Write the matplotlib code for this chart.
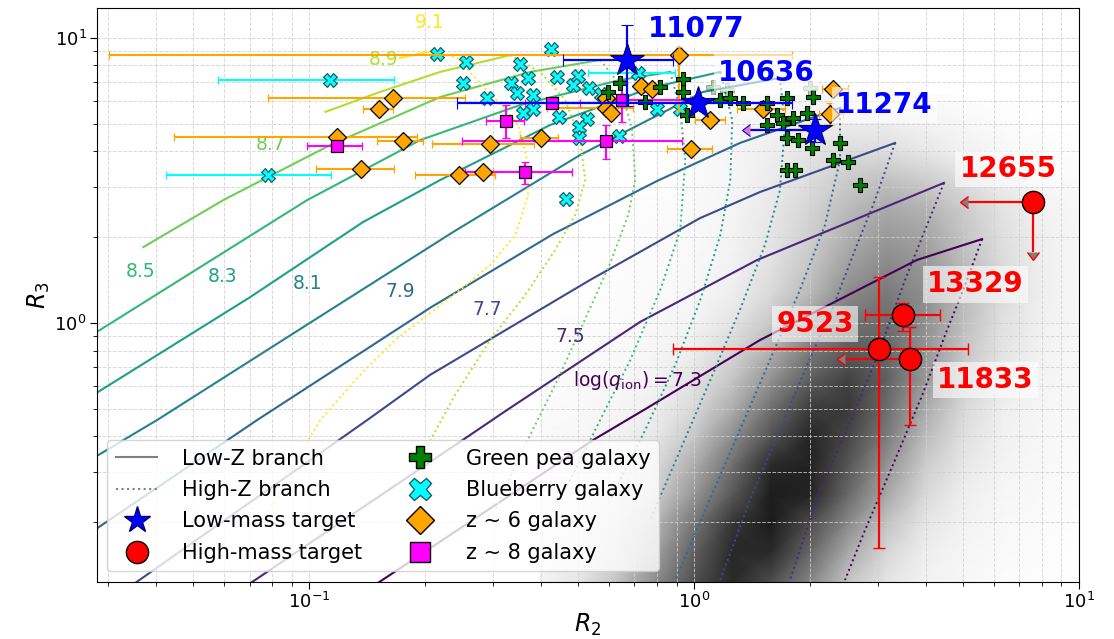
import numpy as np
import matplotlib.pyplot as plt
from matplotlib.lines import Line2D
from matplotlib.colors import PowerNorm

# photoionisation tracks, log10 R2 / log10 R3, one list per log(q_ion) level
q_levels = [7.3, 7.5, 7.7, 7.9, 8.1, 8.3, 8.5, 8.7, 8.9, 9.1]

lowz_logr2 = [
    [-0.868, -0.262, -0.122, 0.171, 0.579, 0.748],
    [-1.179, -0.590, -0.486, -0.140, 0.164, 0.649],
    [-1.478, -0.849, -0.686, -0.270, 0.016, 0.171, 0.522],
    [-1.569, -1.135, -0.686, -0.366, -0.096, 0.119, 0.379],
    [-1.569, -1.395, -0.945, -0.626, -0.296, 0.023, 0.223],
    [-1.569, -1.153, -0.860, -0.660, -0.374, -0.114, 0.068],
    [-1.569, -1.283, -1.005, -0.712, -0.452, -0.192, -0.062],
    [-1.431, -1.223, -0.945, -0.660, -0.426, -0.244],
    [-0.958, -0.816, -0.660, -0.478],
    [-0.764, -0.681],
]
lowz_logr3 = [
    [-0.953, -0.410, -0.298, -0.060, 0.221, 0.294],
    [-0.936, -0.400, -0.305, 0.004, 0.221, 0.491],
    [-0.936, -0.340, -0.182, 0.151, 0.368, 0.459, 0.631],
    [-0.736, -0.340, 0.053, 0.312, 0.498, 0.631, 0.754],
    [-0.480, -0.340, 0.046, 0.319, 0.589, 0.810, 0.859],
    [-0.259, 0.091, 0.354, 0.501, 0.694, 0.824, 0.880],
    [-0.046, 0.196, 0.431, 0.641, 0.764, 0.852, 0.880],
    [0.266, 0.431, 0.624, 0.792, 0.880, 0.922],
    [0.740, 0.810, 0.880, 0.939],
    [0.929, 0.953],
]
highz_logr2 = [
    [0.748, 0.704, 0.657, 0.595, 0.522, 0.444, 0.392],
    [0.649, 0.600, 0.548, 0.475, 0.405, 0.327, 0.249],
    [0.522, 0.470, 0.418, 0.361, 0.288, 0.223, 0.145, 0.068],
    [0.379, 0.379, 0.340, 0.275, 0.197, 0.119, 0.029, -0.049],
    [0.223, 0.236, 0.223, 0.184, 0.119, 0.042, -0.036, -0.114],
    [0.068, 0.099, 0.094, 0.068, 0.016, -0.049, -0.127, -0.218],
    [-0.062, -0.036, -0.023, -0.036, -0.088, -0.166, -0.244, -0.335],
    [-0.244, -0.192, -0.161, -0.153, -0.171, -0.218, -0.296, -0.361, -0.439, -0.517],
    [-0.478, -0.400, -0.335, -0.296, -0.283, -0.309, -0.361, -0.439, -0.530, -0.621, -0.699],
    [-0.681, -0.616, -0.556, -0.496, -0.457, -0.434, -0.431, -0.465, -0.530, -0.608,
     -0.686, -0.777, -0.868, -0.971, -1.049, -1.114],
]
highz_logr3 = [
    [0.294, 0.133, -0.025, -0.245, -0.480, -0.726, -0.901],
    [0.491, 0.326, 0.151, -0.119, -0.351, -0.585, -0.901],
    [0.631, 0.431, 0.256, 0.056, -0.165, -0.375, -0.620, -0.901],
    [0.754, 0.571, 0.343, 0.116, -0.130, -0.375, -0.655, -0.901],
    [0.859, 0.694, 0.466, 0.273, 0.046, -0.200, -0.445, -0.690],
    [0.880, 0.712, 0.501, 0.308, 0.081, -0.147, -0.375, -0.620],
    [0.880, 0.747, 0.571, 0.326, 0.116, -0.130, -0.340, -0.585],
    [0.922, 0.834, 0.676, 0.501, 0.379, 0.210, -0.025, -0.217, -0.428, -0.655],
    [0.939, 0.880, 0.782, 0.641, 0.501, 0.379, 0.256, 0.098, -0.060, -0.252, -0.445],
    [0.953, 0.929, 0.841, 0.757, 0.694, 0.571, 0.449, 0.308, 0.203, 0.116,
     0.035, -0.060, -0.182, -0.340, -0.515, -0.690],
]

# SDSS star-forming galaxies, smoothed density on a log10 R2 / log10 R3 grid
hist_logr2 = [-0.4, -0.3, -0.2, -0.1, 0.0, 0.1, 0.2, 0.3, 0.4, 0.5, 0.6, 0.7, 0.8, 0.9, 1.0]
hist_logr3 = [-1.0, -0.9, -0.8, -0.7, -0.6, -0.5, -0.4, -0.3, -0.2, -0.1,
              0.0, 0.1, 0.2, 0.3, 0.4, 0.5, 0.6, 0.7, 0.8]
hist_density = [
    [0.05, 0.14, 0.30, 0.53, 0.79, 0.83, 0.63, 0.37, 0.18, 0.075, 0.03, 0.015, 0.006, 0.0, 0.0],
    [0.04, 0.09, 0.23, 0.44, 0.72, 0.88, 0.74, 0.48, 0.24, 0.10, 0.045, 0.022, 0.01, 0.004, 0.0],
    [0.035, 0.07, 0.17, 0.36, 0.64, 0.88, 0.87, 0.62, 0.34, 0.16, 0.065, 0.03, 0.015, 0.006, 0.0],
    [0.025, 0.055, 0.13, 0.29, 0.54, 0.82, 0.94, 0.74, 0.46, 0.24, 0.095, 0.04, 0.02, 0.01, 0.004],
    [0.018, 0.035, 0.08, 0.19, 0.40, 0.68, 0.93, 0.90, 0.60, 0.34, 0.15, 0.06, 0.03, 0.014, 0.006],
    [0.014, 0.028, 0.06, 0.145, 0.32, 0.58, 0.87, 0.91, 0.69, 0.41, 0.20, 0.085, 0.035, 0.018, 0.008],
    [0.012, 0.025, 0.045, 0.09, 0.22, 0.44, 0.72, 0.89, 0.76, 0.51, 0.27, 0.12, 0.05, 0.025, 0.012],
    [0.008, 0.015, 0.03, 0.06, 0.15, 0.32, 0.57, 0.80, 0.81, 0.58, 0.33, 0.15, 0.06, 0.03, 0.015],
    [0.006, 0.012, 0.02, 0.04, 0.10, 0.23, 0.42, 0.66, 0.78, 0.64, 0.39, 0.20, 0.08, 0.035, 0.016],
    [0.0, 0.007, 0.014, 0.027, 0.064, 0.16, 0.31, 0.52, 0.67, 0.62, 0.41, 0.23, 0.10, 0.04, 0.02],
    [0.0, 0.005, 0.01, 0.018, 0.038, 0.10, 0.22, 0.39, 0.56, 0.585, 0.43, 0.26, 0.12, 0.05, 0.022],
    [0.0, 0.0, 0.006, 0.013, 0.026, 0.065, 0.15, 0.28, 0.45, 0.53, 0.43, 0.27, 0.14, 0.06, 0.025],
    [0.0, 0.0, 0.004, 0.01, 0.018, 0.046, 0.115, 0.225, 0.37, 0.455, 0.40, 0.27, 0.14, 0.06, 0.025],
    [0.0, 0.0, 0.0, 0.008, 0.016, 0.04, 0.095, 0.19, 0.31, 0.39, 0.355, 0.24, 0.125, 0.06, 0.022],
    [0.0, 0.0, 0.0, 0.007, 0.014, 0.034, 0.085, 0.165, 0.27, 0.335, 0.30, 0.20, 0.105, 0.045, 0.018],
    [0.0, 0.0, 0.0, 0.0, 0.012, 0.03, 0.07, 0.13, 0.21, 0.25, 0.205, 0.13, 0.065, 0.03, 0.011],
    [0.0, 0.0, 0.0, 0.0, 0.012, 0.03, 0.06, 0.10, 0.137, 0.13, 0.09, 0.05, 0.022, 0.008, 0.0],
    [0.0, 0.0, 0.0, 0.0, 0.0, 0.017, 0.034, 0.055, 0.07, 0.062, 0.04, 0.022, 0.01, 0.0, 0.0],
    [0.0, 0.0, 0.0, 0.0, 0.0, 0.0, 0.016, 0.025, 0.03, 0.025, 0.015, 0.0, 0.0, 0.0, 0.0],
]

# green peas
gp_r2 = [0.643, 0.598, 0.746, 0.816, 0.936, 0.936, 0.959, 1.168, 1.240, 1.340, 1.548, 1.745,
         2.037, 1.643, 1.807, 1.966, 1.548, 1.703, 1.745, 1.862, 2.025, 2.393, 2.296, 2.512,
         1.745, 1.829, 2.698]
gp_r3 = [6.94, 6.45, 5.95, 6.72, 7.16, 6.45, 5.36, 6.05, 6.15, 5.90, 5.90, 6.15,
         6.20, 5.36, 5.23, 5.45, 4.94, 5.02, 4.45, 4.38, 4.10, 4.28, 3.73, 3.67,
         3.44, 3.44, 3.05]
gp_faint_r2 = [1.12, 1.218, 2.0]
gp_faint_r3 = [6.72, 6.56, 6.66]

# blueberries
bb_r2 = [0.215, 0.256, 0.425, 0.353, 0.251, 0.371, 0.335, 0.347, 0.382, 0.441, 0.500, 0.485,
         0.534, 0.446, 0.290, 0.382, 0.360, 0.527, 0.502, 0.502, 0.638, 0.573, 0.801, 0.920,
         0.465]
bb_r3 = [8.77, 8.22, 9.13, 8.09, 6.94, 7.22, 6.94, 6.40, 6.30, 7.28, 7.34, 6.83,
         6.66, 5.27, 6.15, 5.62, 5.45, 5.19, 4.86, 4.45, 4.52, 6.35, 5.62, 5.62,
         2.72]
bb_err_r2 = [0.113, 0.078, 0.715]
bb_err_r3 = [7.11, 3.30, 7.52]
bb_err_r2_lo = [0.058, 0.0425, 0.531]
bb_err_r2_hi = [0.166, 0.114, 0.893]

# z ~ 6 galaxies
z6_r2 = [0.165, 0.152, 0.118, 0.175, 0.136, 0.914, 0.728, 0.778, 0.591, 0.591,
         0.609, 1.10, 1.51, 2.296, 2.256, 0.295, 0.401, 0.982, 0.245, 0.283]
z6_r3 = [6.15, 5.62, 4.49, 4.34, 3.47, 8.70, 6.78, 6.61, 6.15, 5.67,
         5.45, 5.15, 5.62, 6.61, 5.40, 4.24, 4.45, 4.07, 3.30, 3.38]
z6_r2_lo = [0.0782, 0.138, 0.0446, 0.150, 0.104, 0.0301, 0.728, 0.778, 0.591, 0.415,
            0.609, 1.006, 1.293, 2.15, 2.112, 0.209, 0.353, 0.851, 0.1885, 0.251]
z6_r2_hi = [0.254, 0.165, 0.191, 0.198, 0.166, 1.797, 0.728, 0.778, 0.591, 0.695,
            0.609, 1.204, 1.722, 2.512, 2.438, 0.384, 0.443, 1.114, 0.304, 0.301]
z6_r3_lo = [6.15, 5.62, 4.49, 4.34, 3.47, 5.58, 6.78, 6.61, 6.15, 5.67,
            5.45, 5.15, 5.62, 6.61, 4.94, 4.24, 4.45, 4.07, 3.30, 3.38]
z6_r3_hi = [6.15, 5.62, 4.49, 4.34, 3.47, 9.30, 6.78, 6.61, 6.15, 5.67,
            5.45, 5.15, 5.62, 6.61, 5.90, 4.24, 4.45, 4.07, 3.30, 3.38]

# z ~ 8 galaxies
z8_r2 = [0.118, 0.428, 0.650, 0.325, 0.591, 0.364]
z8_r3 = [4.17, 5.90, 6.05, 5.11, 4.34, 3.38]
z8_r2_lo = [0.0989, 0.364, 0.570, 0.288, 0.2496, 0.254]
z8_r2_hi = [0.1374, 0.506, 0.976, 0.362, 0.931, 0.482]
z8_r3_lo = [4.17, 5.90, 5.07, 4.45, 3.76, 3.07]
z8_r3_hi = [4.17, 5.90, 7.11, 5.81, 4.94, 3.67]

# our targets
lm_names = ['11077', '10636', '11274']
lm_r2 = [0.670, 1.024, 2.062]
lm_r3 = [8.36, 5.90, 4.75]
lm_r2_lo = [0.457, 0.242, 1.397]
lm_r2_hi = [0.881, 1.797, 2.062]
lm_r3_lo = [5.75, 5.60, 4.30]
lm_r3_hi = [11.09, 6.20, 5.20]
lm_r2_limit = [False, False, True]

hm_names = ['12655', '13329', '9523', '11833']
hm_r2 = [7.60, 3.49, 3.023, 3.64]
hm_r3 = [2.655, 1.067, 0.811, 0.748]
hm_r2_lo = [5.15, 2.78, 0.882, 2.47]
hm_r2_hi = [7.60, 4.35, 5.15, 3.64]
hm_r3_lo = [1.774, 0.937, 0.163, 0.439]
hm_r3_hi = [2.655, 1.175, 1.449, 0.968]
hm_r2_limit = [True, False, False, True]
hm_r3_limit = [True, False, False, False]


def asym(v, lo, hi):
    v = np.asarray(v, dtype=float)
    return np.vstack([v - np.asarray(lo), np.asarray(hi) - v])


fig = plt.figure(figsize=(11.14, 6.39), dpi=100)
ax = fig.add_axes([0.0871, 0.0897, 0.8815, 0.8973])
ax.set_xscale('log')
ax.set_yscale('log')

# galaxy density in the background
HX, HY = np.meshgrid(10 ** np.array(hist_logr2), 10 ** np.array(hist_logr3))
ax.pcolormesh(HX, HY, np.array(hist_density), shading='gouraud', cmap='Greys',
              norm=PowerNorm(gamma=0.7, vmin=0, vmax=1.08), zorder=0.2, rasterized=True)

# model tracks
cmap = plt.get_cmap('viridis')
for i, q in enumerate(q_levels):
    col = cmap((q - q_levels[0]) / (q_levels[-1] - q_levels[0]))
    ax.plot(10 ** np.array(lowz_logr2[i]), 10 ** np.array(lowz_logr3[i]), '-',
            color=col, lw=1.5, zorder=1)
    ax.plot(10 ** np.array(highz_logr2[i]), 10 ** np.array(highz_logr3[i]), ':',
            color=col, lw=1.4, zorder=1)

q_label_xy = [(0.711, 0.631), (0.476, 0.893), (0.290, 1.112), (0.172, 1.285), (0.0989, 1.38),
              (0.0594, 1.45), (0.0364, 1.51), (0.0793, 4.21), (0.156, 8.36), (0.206, 11.27)]
for i, q in enumerate(q_levels):
    col = cmap((q - q_levels[0]) / (q_levels[-1] - q_levels[0]))
    txt = r'$\log(q_{\rm ion}) = %.1f$' % q if i == 0 else '%.1f' % q
    ax.text(q_label_xy[i][0], q_label_xy[i][1], txt, color=col, fontsize=13.5,
            ha='center', va='center', zorder=3)

# comparison samples
ax.plot(gp_faint_r2, gp_faint_r3, ls='none', marker='P', ms=10, mfc='green',
        mec='black', mew=0.8, alpha=0.3, zorder=4)
ax.plot(bb_r2, bb_r3, ls='none', marker='X', ms=10, mfc='cyan', mec='#1b5e6b',
        mew=0.9, zorder=4)
ax.errorbar(bb_err_r2, bb_err_r3, xerr=asym(bb_err_r2, bb_err_r2_lo, bb_err_r2_hi),
            ls='none', marker='X', ms=10, mfc='cyan', mec='#1b5e6b', mew=0.9,
            ecolor='cyan', elinewidth=1.5, capsize=3, zorder=4)
ax.errorbar(z6_r2, z6_r3, xerr=asym(z6_r2, z6_r2_lo, z6_r2_hi),
            yerr=asym(z6_r3, z6_r3_lo, z6_r3_hi), ls='none', marker='D', ms=9,
            mfc='orange', mec='black', mew=0.9, ecolor='orange', elinewidth=1.5,
            capsize=3, zorder=5)
ax.errorbar(z8_r2, z8_r3, xerr=asym(z8_r2, z8_r2_lo, z8_r2_hi),
            yerr=asym(z8_r3, z8_r3_lo, z8_r3_hi), ls='none', marker='s', ms=8,
            mfc='magenta', mec='black', mew=0.9, ecolor='magenta', elinewidth=1.5,
            capsize=3, zorder=5)
ax.plot(gp_r2, gp_r3, ls='none', marker='P', ms=10, mfc='green', mec='black',
        mew=0.8, zorder=6)

# targets
ax.errorbar(lm_r2, lm_r3, xerr=asym(lm_r2, lm_r2_lo, lm_r2_hi),
            yerr=asym(lm_r3, lm_r3_lo, lm_r3_hi), xuplims=lm_r2_limit, ls='none',
            marker='*', ms=25, mfc='blue', mec='#000066', mew=0.8, ecolor='blue',
            elinewidth=1.6, capsize=4, zorder=8)
ax.errorbar(hm_r2, hm_r3, xerr=asym(hm_r2, hm_r2_lo, hm_r2_hi),
            yerr=asym(hm_r3, hm_r3_lo, hm_r3_hi), xuplims=hm_r2_limit,
            uplims=hm_r3_limit, ls='none', marker='o', ms=16, mfc='red', mec='black',
            mew=1.0, ecolor='red', elinewidth=1.6, capsize=4, zorder=8)

lm_offsets = [(50, 22), (49, 22), (50, 18)]
for name, x, y, off in zip(lm_names, lm_r2, lm_r3, lm_offsets):
    ax.annotate(name, (x, y), xytext=off, textcoords='offset points', ha='center',
                va='center', fontsize=20, fontweight='bold', color='blue', zorder=9,
                bbox=dict(boxstyle='square,pad=0.15', fc='white', ec='none', alpha=0.6))
hm_offsets = [(-18, 24), (52, 22), (-46, 18), (54, -15)]
for name, x, y, off in zip(hm_names, hm_r2, hm_r3, hm_offsets):
    ax.annotate(name, (x, y), xytext=off, textcoords='offset points', ha='center',
                va='center', fontsize=20, fontweight='bold', color='red', zorder=9,
                bbox=dict(boxstyle='square,pad=0.15', fc='white', ec='none', alpha=0.6))

ax.set_xlim(0.0281, 10)
ax.set_ylim(0.1239, 12.68)
ax.grid(True, which='both', ls='--', color='#cfcfcf', lw=0.7, alpha=0.8)
ax.set_axisbelow(True)
ax.tick_params(which='major', labelsize=13, length=5, pad=2.5)
ax.tick_params(which='minor', length=3)
ax.set_xlabel(r'$R_2$', fontsize=17, labelpad=0)
ax.set_ylabel(r'$R_3$', fontsize=17, labelpad=2)

handles = [
    Line2D([], [], color='gray', lw=1.5, label='Low-Z branch'),
    Line2D([], [], color='gray', lw=1.5, ls=':', label='High-Z branch'),
    Line2D([], [], ls='none', marker='*', ms=20, mfc='blue', mec='#000066', label='Low-mass target'),
    Line2D([], [], ls='none', marker='o', ms=16, mfc='red', mec='black', label='High-mass target'),
    Line2D([], [], ls='none', marker='P', ms=16, mfc='green', mec='black', label='Green pea galaxy'),
    Line2D([], [], ls='none', marker='X', ms=16, mfc='cyan', mec='#1b5e6b', label='Blueberry galaxy'),
    Line2D([], [], ls='none', marker='D', ms=14, mfc='orange', mec='black', label='z ~ 6 galaxy'),
    Line2D([], [], ls='none', marker='s', ms=15, mfc='magenta', mec='black', label='z ~ 8 galaxy'),
]
leg = ax.legend(handles=handles, loc='lower left', ncol=2, fontsize=15, framealpha=0.8,
                labelspacing=0.55, columnspacing=1.75, handletextpad=1.2)
leg.set_zorder(10)

fig.savefig('out.png', dpi=100)
